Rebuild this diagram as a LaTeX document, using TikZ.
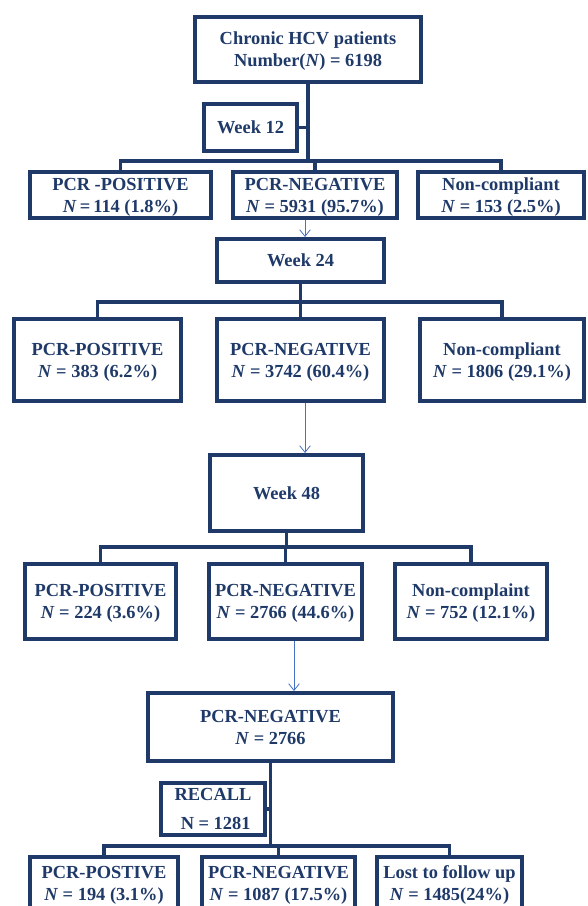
\documentclass[tikz,border=0pt]{standalone}
\usepackage{fontspec}
\setmainfont{Liberation Serif}
\usetikzlibrary{arrows.meta,shadows}
\definecolor{navy}{RGB}{31,58,105}
\definecolor{arrblue}{RGB}{68,114,196}
\newcommand\bx[6]{\node[box, minimum width={(#4-#2-4)*0.75pt}, minimum height={(#5-#3-4)*0.75pt}] (#1) at ({(#2+#4)/2},{(#3+#5)/2}) {#6};}
\begin{document}
\begin{tikzpicture}[x=0.75pt,y=-0.75pt,
 box/.style={draw=navy, line width=3pt, fill=white, inner sep=0pt, align=center, text=navy,
   text depth=0pt,
   font=\fontsize{13.8}{16.5}\selectfont\bfseries,
   drop shadow={shadow xshift=1.2pt, shadow yshift=-1.2pt, opacity=0.25, fill=black}},
 conn/.style={draw=navy, line width=2.4pt},
 arr/.style={draw=arrblue, line width=0.6pt, -{Straight Barb[length=5pt,width=8pt]}}]
\useasboundingbox (0,0) rectangle (587,906);
\clip (0,0) rectangle (587,906);
\fill[white] (0,0) rectangle (587,906);

\bx{top}{193}{15}{423}{84}{Chronic HCV patients\\Number(\textit{N}) = 6198}
\bx{w12}{202}{102}{299}{153}{Week 12}
\bx{pa}{28}{170}{213}{220}{PCR -POSITIVE\\\textit{N}\,=\,114 (1.8\%)}
\bx{na}{231}{170}{399}{220}{PCR-NEGATIVE\\\textit{N} = 5931 (95.7\%)}
\bx{ca}{416}{170}{586}{220}{Non-compliant\\\textit{N} = 153 (2.5\%)}
\bx{w24}{215}{237}{386}{284}{Week 24}
\bx{pb}{12}{317}{183}{403}{PCR-POSITIVE\\\textit{N} = 383 (6.2\%)}
\bx{nb}{215}{317}{386}{403}{PCR-NEGATIVE\\\textit{N} = 3742 (60.4\%)}
\bx{cb}{418}{317}{586}{403}{Non-compliant\\\textit{N} = 1806 (29.1\%)}
\bx{w48}{208}{453}{365}{533}{Week 48}
\bx{pc}{23}{562}{178}{641}{PCR-POSITIVE\\\textit{N} = 224 (3.6\%)}
\bx{nc}{207}{562}{364}{641}{PCR-NEGATIVE\\\textit{N} = 2766 (44.6\%)}
\bx{cc}{393}{562}{549}{641}{Non-complaint\\\textit{N} = 752 (12.1\%)}
\bx{nd}{146}{691}{395}{763}{PCR-NEGATIVE\\\textit{N} = 2766}
\bx{rc}{159}{781}{267}{837}{RECALL\\[5pt]\hspace*{4pt}N = 1281}
\bx{pe}{28}{855}{180}{912}{PCR-POSTIVE\\\textit{N} = 194 (3.1\%)}
\bx{ne}{200}{855}{357}{912}{PCR-NEGATIVE\\\textit{N} = 1087 (17.5\%)}
\bx{le}{375}{855}{524}{912}{Lost to follow up\\\textit{N} = 1485(24\%)}

% group a
\coordinate (ba) at (308,161);
\draw[conn] (top.south) -- (top.south |- ba);
\draw[conn] (w12.east) -- (w12.east -| top.south);
\draw[conn] (pa.north) |- (ba) -| (ca.north);
\draw[conn] (ba -| na.north) -- (na.north);
% group b
\coordinate (bb) at (300,302);
\draw[conn] (w24.south) -- (w24.south |- bb);
\draw[conn] (pb.north) |- (bb) -| (cb.north);
\draw[conn] (bb -| nb.north) -- (nb.north);
% group c
\coordinate (bc) at (287,547);
\draw[conn] (w48.south) -- (w48.south |- bc);
\draw[conn] (pc.north) |- (bc) -| (cc.north);
\draw[conn] (bc -| nc.north) -- (nc.north);
% group d
\coordinate (bd) at (270,846);
\draw[conn] (nd.south) -- (nd.south |- bd);
\draw[conn] (rc.east) -- (rc.east -| nd.south);
\draw[conn] (pe.north) |- (bd) -| (le.north);
\draw[conn] (bd -| ne.north) -- (ne.north);

% arrows
\coordinate (xa) at (305,0);
\coordinate (xc) at (294,0);
\draw[arr] (na.south -| xa) -- (w24.north -| xa);
\draw[arr] (nb.south -| xa) -- (w48.north -| xa);
\draw[arr] (nc.south -| xc) -- (nd.north -| xc);
\end{tikzpicture}
\end{document}
